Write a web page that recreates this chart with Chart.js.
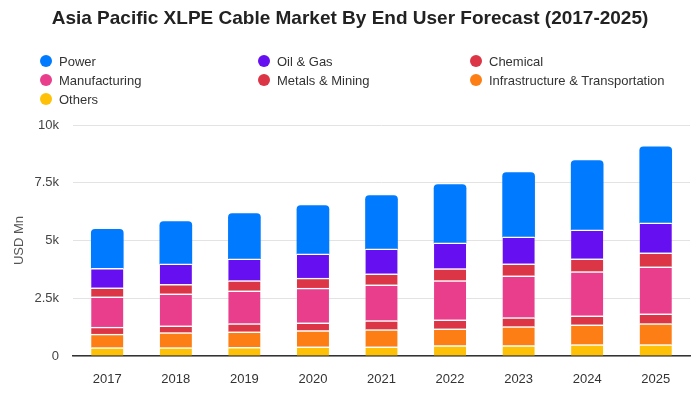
<!DOCTYPE html>
<html>
<head>
<meta charset="utf-8">
<script src="https://cdn.jsdelivr.net/npm/chart.js@4.4.0/dist/chart.umd.min.js"></script>
<style>
  html, body { margin: 0; padding: 0; background: #fff; }
  body { width: 700px; height: 400px; position: relative; overflow: hidden; font-family: "Liberation Sans", Arial, sans-serif; }
  #title { position: absolute; top: 7px; left: 0; width: 700px; text-align: center; font-size: 19px; font-weight: bold; color: #222; }
  #legend { position: absolute; top: 52px; left: 40px; display: grid; grid-template-columns: 218px 212px 230px; row-gap: 1px; font-size: 13px; color: #333; }
  .item { display: flex; align-items: center; height: 18px; }
  .dot { width: 12px; height: 12px; border-radius: 50%; margin-right: 7px; }
  #wrap { position: absolute; left: 0; top: 0; width: 700px; height: 400px; }
</style>
</head>
<body>
<div id="wrap"><canvas id="chart" width="700" height="400"></canvas></div>
<div id="title">Asia Pacific XLPE Cable Market By End User Forecast (2017-2025)</div>
<div id="legend"></div>
<script>
// categories and series (USD Mn)
const years = ["2017", "2018", "2019", "2020", "2021", "2022", "2023", "2024", "2025"];
const others = [360, 360, 370, 400, 400, 450, 450, 490, 490];
const infrastructure = [590, 650, 680, 700, 740, 730, 820, 860, 910];
const metalsMining = [300, 300, 350, 340, 390, 390, 390, 390, 430];
const manufacturing = [1310, 1380, 1420, 1500, 1550, 1690, 1810, 1910, 2030];
const chemical = [390, 410, 440, 430, 480, 520, 520, 560, 610];
const oilGas = [850, 890, 950, 1050, 1080, 1120, 1170, 1250, 1290];
const power = [1680, 1830, 1960, 2090, 2310, 2520, 2780, 3000, 3300];
const yTicks = [0, 2500, 5000, 7500, 10000];

// legend order (as shown); stack order is bottom to top below
const legendItems = [
  ["Power", "#007bff"], ["Oil & Gas", "#6610f2"], ["Chemical", "#dc3545"],
  ["Manufacturing", "#e83e8c"], ["Metals & Mining", "#dc3545"], ["Infrastructure & Transportation", "#fd7e14"],
  ["Others", "#ffc107"]
];

const legend = document.getElementById("legend");
legendItems.forEach(([name, color]) => {
  const el = document.createElement("div");
  el.className = "item";
  el.innerHTML = `<span class="dot" style="background:${color}"></span><span></span>`;
  el.lastChild.textContent = name;
  legend.appendChild(el);
});

function seg(label, data, color, top) {
  return {
    label, data,
    backgroundColor: color,
    borderColor: "#fff",
    borderWidth: top ? 0 : { top: 1.5 },
    borderSkipped: false,
    borderRadius: top ? { topLeft: 4, topRight: 4 } : 0
  };
}

new Chart(document.getElementById("chart"), {
  type: "bar",
  data: {
    labels: years,
    datasets: [
      seg("Others", others, "#ffc107"),
      seg("Infrastructure & Transportation", infrastructure, "#fd7e14"),
      seg("Metals & Mining", metalsMining, "#dc3545"),
      seg("Manufacturing", manufacturing, "#e83e8c"),
      seg("Chemical", chemical, "#dc3545"),
      seg("Oil & Gas", oilGas, "#6610f2"),
      seg("Power", power, "#007bff", true)
    ]
  },
  options: {
    responsive: false,
    animation: false,
    layout: { padding: { top: 125, right: 10, left: 0, bottom: 0 } },
    datasets: { bar: { barThickness: 32 } },
    plugins: { legend: { display: false }, tooltip: { enabled: false } },
    scales: {
      x: {
        stacked: true,
        grid: { display: false },
        border: { color: "#333", width: 1.5 },
        ticks: { color: "#333", font: { size: 13, family: "Liberation Sans" }, padding: 8 },
        afterFit: s => { s.height = 44; }
      },
      y: {
        stacked: true,
        min: 0, max: 10000,
        afterBuildTicks: s => { s.ticks = yTicks.map(v => ({ value: v })); },
        grid: { color: "#e3e3e3", drawTicks: false },
        border: { display: false },
        ticks: {
          color: "#444", padding: 14,
          font: { size: 13, family: "Liberation Sans" },
          callback: v => v === 0 ? "0" : (v / 1000) + "k"
        },
        title: {
          display: true, text: "USD Mn", color: "#555",
          font: { size: 13, family: "Liberation Sans" },
          padding: { top: 12, bottom: 0 }
        },
        afterFit: s => { s.width = 73; }
      }
    }
  }
});
</script>
</body>
</html>
